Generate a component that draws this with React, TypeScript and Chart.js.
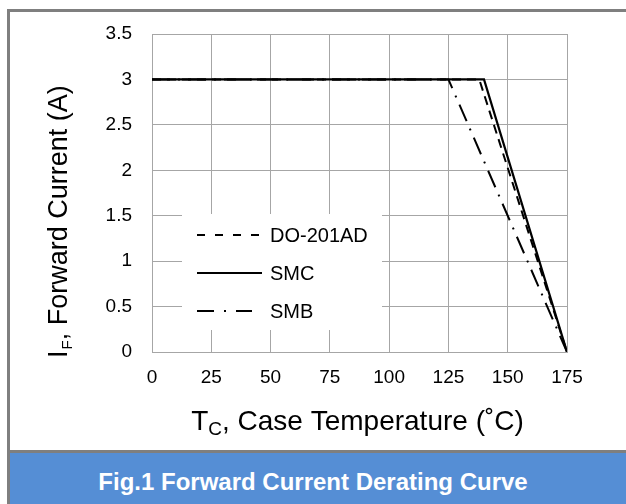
import React, { useEffect, useRef } from "react";
import { Chart, registerables } from "chart.js";

Chart.register(...registerables);

// ---- data ----
const xTickValues = [0, 25, 50, 75, 100, 125, 150, 175];
const yTickValues = [0, 0.5, 1, 1.5, 2, 2.5, 3, 3.5];
const seriesNames = ["DO-201AD", "SMC", "SMB"];
const do201adTemps = [0, 138, 175];
const do201adCurrent = [3, 3, 0];
const smcTemps = [0, 140, 175];
const smcCurrent = [3, 3, 0];
const smbTemps = [0, 125, 175];
const smbCurrent = [3, 3, 0];
const xTitleMain = "T";
const xTitleSub = "C";
const xTitleRest = ", Case Temperature (\u02DAC)";
const yTitleMain = "I";
const yTitleSub = "F";
const yTitleRest = ", Forward Current (A)";
const caption = "Fig.1 Forward Current Derating Curve";

const FONT = "'Liberation Sans', Arial, Helvetica, sans-serif";

const dashDO = [9, 6];
const dashSMB = [18, 8, 2, 8];
const legendDashes = [[8, 10], [], [17, 10, 2, 10]];

const toPoints = (xs: number[], ys: number[]) => xs.map((x, i) => ({ x, y: ys[i] }));

const decorPlugin = {
  id: "decor",
  afterDraw(chart: any) {
    const { ctx, chartArea } = chart;
    ctx.save();
    // legend box
    const lx = chartArea.left + 30;
    const ly = chartArea.top + 180;
    ctx.fillStyle = "#ffffff";
    ctx.fillRect(lx, ly, 200, 116);
    const rows = [chartArea.top + 201, chartArea.top + 239, chartArea.top + 277];
    const lineEnds = [108, 110, 100];
    seriesNames.forEach((name, i) => {
      ctx.beginPath();
      ctx.setLineDash(legendDashes[i]);
      ctx.lineWidth = 2;
      ctx.strokeStyle = "#000";
      ctx.lineCap = "butt";
      ctx.moveTo(chartArea.left + 45, rows[i]);
      ctx.lineTo(chartArea.left + lineEnds[i], rows[i]);
      ctx.stroke();
      ctx.setLineDash([]);
      ctx.fillStyle = "#000";
      ctx.font = `20px ${FONT}`;
      ctx.textAlign = "left";
      ctx.textBaseline = "middle";
      ctx.fillText(name, chartArea.left + 118, rows[i] + 1);
    });

    // x axis title
    ctx.textBaseline = "alphabetic";
    ctx.textAlign = "left";
    ctx.fillStyle = "#000";
    const big = `28px ${FONT}`;
    const subX = `19px ${FONT}`;
    ctx.font = big;
    const w1 = ctx.measureText(xTitleMain).width;
    const w3 = ctx.measureText(xTitleRest).width;
    ctx.font = subX;
    const w2 = ctx.measureText(xTitleSub).width;
    const total = w1 + w2 + w3;
    const cx = (chartArea.left + chartArea.right) / 2 - 2;
    const bx = cx - total / 2;
    const by = chartArea.bottom + 78;
    ctx.font = big;
    ctx.fillText(xTitleMain, bx, by);
    ctx.font = subX;
    ctx.fillText(xTitleSub, bx + w1, by + 5);
    ctx.font = big;
    ctx.fillText(xTitleRest, bx + w1 + w2, by);

    // y axis title (rotated)
    const bigY = `27px ${FONT}`;
    ctx.translate(chartArea.left - 85, chartArea.bottom + 6);
    ctx.rotate(-Math.PI / 2);
    const subY = `15px ${FONT}`;
    ctx.font = bigY;
    const v1 = ctx.measureText(yTitleMain).width;
    ctx.font = subY;
    const v2 = ctx.measureText(yTitleSub).width;
    ctx.font = bigY;
    ctx.fillText(yTitleMain, 0, 0);
    ctx.font = subY;
    ctx.fillText(yTitleSub, v1 + 1, 4.5);
    ctx.font = bigY;
    ctx.fillText(yTitleRest, v1 + v2 + 1, 0);
    ctx.restore();
  },
};

export default function App() {
  const canvasRef = useRef<HTMLCanvasElement | null>(null);

  useEffect(() => {
    if (!canvasRef.current) return;
    const chart = new Chart(canvasRef.current, {
      type: "line",
      data: {
        datasets: [
          {
            label: seriesNames[0],
            data: toPoints(do201adTemps, do201adCurrent),
            borderColor: "#000",
            borderWidth: 2,
            borderDash: dashDO,
            pointRadius: 0,
            fill: false,
            tension: 0,
            order: 1,
          },
          {
            label: seriesNames[1],
            data: toPoints(smcTemps, smcCurrent),
            borderColor: "#000",
            borderWidth: 2.2,
            pointRadius: 0,
            fill: false,
            tension: 0,
            order: 0,
          },
          {
            label: seriesNames[2],
            data: toPoints(smbTemps, smbCurrent),
            borderColor: "#000",
            borderWidth: 2,
            borderDash: dashSMB,
            pointRadius: 0,
            fill: false,
            tension: 0,
            order: 2,
          },
        ],
      },
      options: {
        animation: false,
        responsive: false,
        devicePixelRatio: 1,
        layout: { padding: { left: 0, top: 34, right: 59, bottom: 0 } },
        plugins: { legend: { display: false }, title: { display: false }, tooltip: { enabled: false } },
        scales: {
          x: {
            type: "linear",
            min: 0,
            max: 175,
            afterBuildTicks: (scale: any) => {
              scale.ticks = xTickValues.map((v) => ({ value: v }));
            },
            afterFit: (scale: any) => {
              scale.height = 152;
            },
            grid: { color: "#a6a6a6", lineWidth: 1, drawTicks: false },
            border: { color: "#a6a6a6", width: 1 },
            ticks: {
              padding: 14,
              color: "#000",
              font: { family: FONT, size: 19 },
              maxRotation: 0,
              autoSkip: false,
              callback: (v: any) => String(v),
            },
          },
          y: {
            type: "linear",
            min: 0,
            max: 3.5,
            afterBuildTicks: (scale: any) => {
              scale.ticks = yTickValues.map((v) => ({ value: v }));
            },
            afterFit: (scale: any) => {
              scale.width = 152;
            },
            grid: { color: "#a6a6a6", lineWidth: 1, drawTicks: false },
            border: { color: "#a6a6a6", width: 1 },
            ticks: {
              padding: 20,
              color: "#000",
              font: { family: FONT, size: 19 },
              autoSkip: false,
              callback: (v: any) => String(v),
            },
          },
        },
      },
      plugins: [decorPlugin],
    } as any);
    return () => chart.destroy();
  }, []);

  return (
    <div style={{ position: "absolute", left: 0, top: 0, width: 626, height: 504, background: "#fff", overflow: "hidden" }}>
      <canvas ref={canvasRef} width={626} height={504} style={{ position: "absolute", left: 0, top: 0, width: 626, height: 504 }} />
      <div style={{ position: "absolute", left: 7, top: 9, width: 619, height: 3, background: "#7f7f7f" }} />
      <div style={{ position: "absolute", left: 7, top: 9, width: 3, height: 495, background: "#7f7f7f" }} />
      <div style={{ position: "absolute", left: 7, top: 450, width: 619, height: 3, background: "#7f7f7f" }} />
      <div style={{ position: "absolute", left: 10, top: 453, width: 616, height: 51, background: "#558ed5" }} />
      <div
        style={{
          position: "absolute",
          left: 0,
          top: 456,
          width: 626,
          height: 51,
          lineHeight: "51px",
          textAlign: "center",
          color: "#fff",
          fontFamily: FONT,
          fontWeight: "bold",
          fontSize: 24,
        }}
      >
        {caption}
      </div>
    </div>
  );
}
